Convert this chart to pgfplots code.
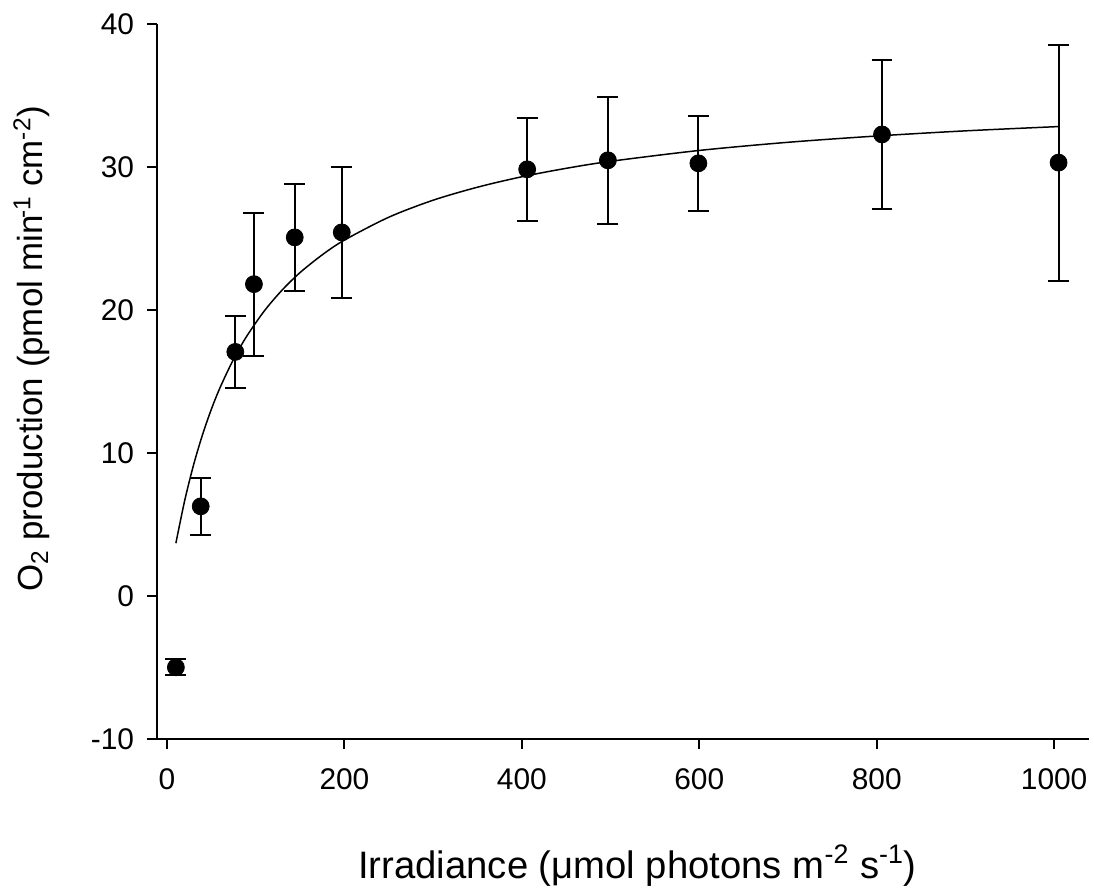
\documentclass[border=0pt]{standalone}
\usepackage{fontspec}
\setmainfont{Liberation Sans}
\usepackage{pgfplots}
\pgfplotsset{compat=1.18}

\begin{document}
\begin{tikzpicture}
\begin{axis}[
  scale only axis,
  width=467.7pt, height=358.9pt,
  xmin=-11.2, xmax=1039,
  ymin=-10, ymax=40,
  axis x line*=bottom, axis y line*=left,
  axis line style={line width=1pt, -},
  tick align=outside,
  major tick length=5pt,
  tick style={line width=1pt, black},
  xtick={0,200,400,600,800,1000},
  ytick={-10,0,10,20,30,40},
  scaled ticks=false,
  /pgf/number format/assume math mode=true,
  /pgf/number format/1000 sep={},
  ticklabel style={font=\fontsize{15}{17}\selectfont},
  xticklabel style={yshift=-6.5pt},
  yticklabel style={xshift=-3pt},
  xlabel={Irradiance (μmol photons m\textsuperscript{-2} s\textsuperscript{-1})},
  ylabel={O\textsubscript{2} production (pmol min\kern-2pt\textsuperscript{-1} cm\textsuperscript{-2})},
  xlabel style={font=\fontsize{19.2}{22}\selectfont, at={(axis description cs:0.5157,-0.195)}, anchor=base},
  ylabel style={font=\fontsize{17.5}{21}\selectfont, at={(axis description cs:-0.1225,0.546)}, anchor=base},
  clip=false,
]

% fitted curve
\addplot[black, line width=0.75pt, smooth] coordinates {
  (10,3.70) (20,6.70) (30,9.19) (40,11.28) (50,13.07) (60,14.61) (75,16.57)
  (90,18.19) (110,19.97) (130,21.42) (150,22.63) (175,23.87) (200,24.90)
  (250,26.50) (300,27.69) (350,28.60) (400,29.33) (450,29.92) (500,30.41)
  (600,31.17) (700,31.74) (800,32.18) (900,32.54) (1005,32.84)
};

% measured O2 production with error bars
\addplot[black, only marks, mark=*, mark size=4.25pt,
  error bars/.cd, y dir=both, y explicit,
  error bar style={line width=1pt, black},
  error mark options={rotate=90, mark size=5.25pt, line width=1pt, black}]
  table[x=x, y=y, y error=e] {
x y e
10 -4.98 0.55
38 6.28 2.0
77 17.08 2.52
98 21.82 5.0
144 25.09 3.75
197 25.44 4.6
406 29.85 3.6
497 30.48 4.43
599 30.27 3.33
806 32.29 5.2
1005 30.32 8.25
};
\end{axis}
\path ([xshift=-78.85pt, yshift=-75pt]current axis.south west)
  rectangle ([xshift=0.5pt, yshift=12.15pt]current axis.north east);
\end{tikzpicture}
\end{document}
